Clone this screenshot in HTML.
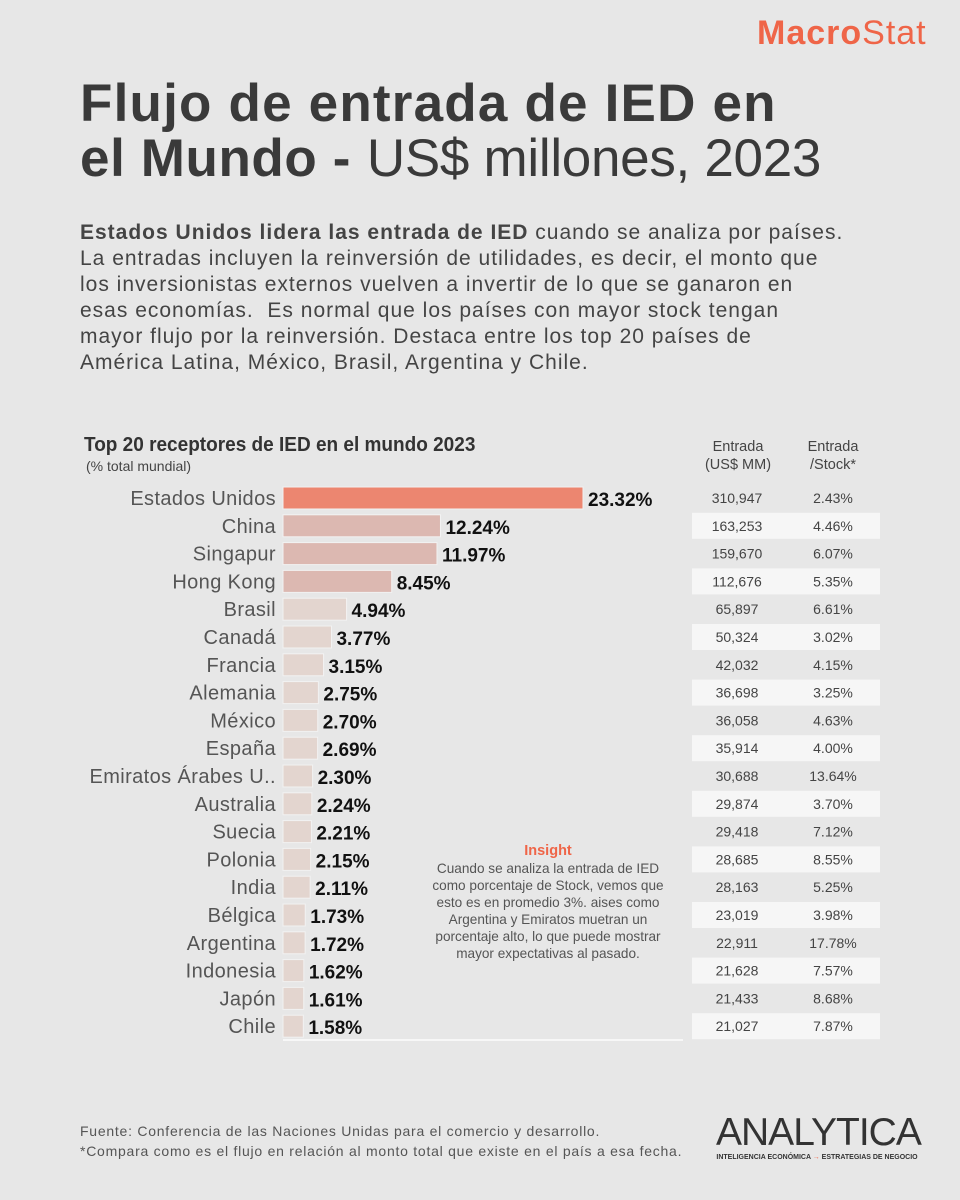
<!DOCTYPE html>
<html><head><meta charset="utf-8">
<style>
body{margin:0;width:960px;height:1200px;background:#e7e7e7;font-family:"Liberation Sans",sans-serif;overflow:hidden;position:relative;color:#3c3c3c}
.abs{position:absolute}
</style></head><body>
<div class="abs" style="left:757px;top:14px;font-size:34px;color:#ef6548;letter-spacing:1px"><b>Macro</b>Stat</div>
<div class="abs" style="left:80px;top:76px;font-size:53px;line-height:55px;color:#3a3a3a;font-weight:bold;letter-spacing:1.2px;white-space:nowrap">Flujo de entrada de IED en<br><span style="letter-spacing:0.6px">el Mundo -</span> <span style="font-weight:normal;letter-spacing:-0.3px">US$ millones, 2023</span></div>
<div class="abs" style="left:80px;top:220px;white-space:nowrap;font-size:21px;line-height:26px;color:#444;letter-spacing:1px"><b>Estados Unidos lidera las entrada de IED</b> cuando se analiza por países.<br>La entradas incluyen la reinversión de utilidades, es decir, el monto que<br>los inversionistas externos vuelven a invertir de lo que se ganaron en<br>esas economías.&nbsp; Es normal que los países con mayor stock tengan<br>mayor flujo por la reinversión. Destaca entre los top 20 países de<br>América Latina, México, Brasil, Argentina y Chile.</div>
<div class="abs" style="left:84px;top:434px;font-size:20px;color:#333;font-weight:bold;transform:scaleX(0.95);transform-origin:left">Top 20 receptores de IED en el mundo 2023</div>
<div class="abs" style="left:86px;top:458px;font-size:14px;color:#444">(% total mundial)</div>
<div class="abs" style="left:692px;top:438px;width:92px;text-align:center;font-size:14.5px;line-height:18px;color:#444">Entrada<br>(US$ MM)</div>
<div class="abs" style="left:790px;top:438px;width:86px;text-align:center;font-size:14.5px;line-height:18px;color:#444">Entrada<br>/Stock*</div>
<svg class="abs" style="left:0;top:0" width="960" height="1200" id="chart"></svg>
<div class="abs" style="left:403px;top:843px;width:290px;text-align:center;font-size:13.6px;line-height:17px;color:#555"><div style="color:#ef6548;font-weight:bold;font-size:14.5px">Insight</div>Cuando se analiza la entrada de IED<br>como porcentaje de Stock, vemos que<br>esto es en promedio 3%. aises como<br>Argentina y Emiratos muetran un<br>porcentaje alto, lo que puede mostrar<br>mayor expectativas al pasado.</div>
<div class="abs" style="left:80px;top:1121px;font-size:14px;line-height:20px;color:#555;letter-spacing:0.75px;white-space:nowrap">Fuente: Conferencia de las Naciones Unidas para el comercio y desarrollo.<br>*Compara como es el flujo en relación al monto total que existe en el país a esa fecha.</div>
<div class="abs" style="left:716px;top:1112px;width:202px;text-align:center">
<div style="font-size:39px;line-height:42px;color:#333;letter-spacing:-1px">ANALYTICA</div>
<div style="font-size:7px;font-weight:bold;color:#333;white-space:nowrap">INTELIGENCIA ECONÓMICA <span style="color:#ef6548">→</span> ESTRATEGIAS DE NEGOCIO</div></div>
<script>
const countries=["Estados Unidos","China","Singapur","Hong Kong","Brasil","Canadá","Francia","Alemania","México","España","Emiratos Árabes U..","Australia","Suecia","Polonia","India","Bélgica","Argentina","Indonesia","Japón","Chile"];
const shares=[23.32,12.24,11.97,8.45,4.94,3.77,3.15,2.75,2.70,2.69,2.30,2.24,2.21,2.15,2.11,1.73,1.72,1.62,1.61,1.58];
const inflows=["310,947","163,253","159,670","112,676","65,897","50,324","42,032","36,698","36,058","35,914","30,688","29,874","29,418","28,685","28,163","23,019","22,911","21,628","21,433","21,027"];
const ratios=["2.43%","4.46%","6.07%","5.35%","6.61%","3.02%","4.15%","3.25%","4.63%","4.00%","13.64%","3.70%","7.12%","8.55%","5.25%","3.98%","17.78%","7.57%","8.68%","7.87%"];
const NS="http://www.w3.org/2000/svg";
const svg=document.getElementById('chart');
const x0=283, pxPer=300/23.32;
const xs=v=>v*pxPer;
const ys=i=>498+i*27.8;
function mk(t,a){const e=document.createElementNS(NS,t);for(const k in a)e.setAttribute(k,a[k]);svg.appendChild(e);return e;}
const axisLine=mk('line',{x1:283,y1:1040,x2:683,y2:1040,stroke:'#f7f7f7','stroke-width':2});


countries.forEach((c,i)=>{
  const y=ys(i);
  if(i%2==1){const r=mk('rect',{x:692,y:y-13,width:188,height:26,fill:'#f6f6f6'});
    
    }
  const fill=i==0?'#ec8670':(i<4?'#dcb8b1':'#e3d5cf');
  const b=mk('rect',{x:x0,y:y-11,width:xs(shares[i]),height:22,fill:fill,stroke:'#f2f2f2','stroke-width':1});
  
  
  const l=mk('text',{x:276,y:y+7,'text-anchor':'end','font-size':20,'letter-spacing':0.4,fill:'#555'});l.textContent=c;
  
  
  const v=mk('text',{x:x0+xs(shares[i])+5,y:y+8,'font-size':19,'font-weight':'bold',fill:'#111'});v.textContent=shares[i].toFixed(2)+'%';
  
  
  const a=mk('text',{x:737,y:y+5,'text-anchor':'middle','font-size':14,fill:'#444'});a.textContent=inflows[i];
  
  
  const r2=mk('text',{x:833,y:y+5,'text-anchor':'middle','font-size':14,fill:'#444'});r2.textContent=ratios[i];
  
  
});
</script>
</body></html>
